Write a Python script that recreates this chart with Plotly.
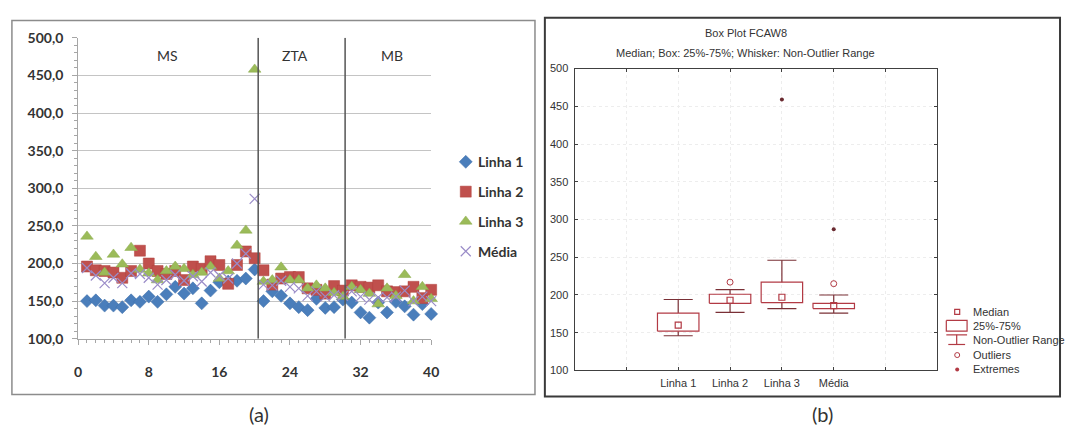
import plotly.graph_objects as go

W, H = 1070, 439

# ---- panel (a): hardness profile, 40 indentations per line ----
points = list(range(1, 41))
linha1 = [150, 151, 144, 144, 142, 151, 149, 156, 149, 159,
          169, 160, 167, 147, 164, 175, 176, 177, 180, 192,
          150, 163, 157, 147, 142, 138, 153, 141, 142, 152,
          148, 135, 128, 148, 135, 149, 143, 132, 146, 133]
linha2 = [196, 191, 190, 188, 181, 190, 217, 200, 190, 186,
          190, 178, 196, 193, 203, 198, 173, 198, 216, 207,
          191, 172, 180, 182, 182, 167, 165, 160, 170, 164,
          171, 169, 168, 171, 163, 162, 163, 169, 154, 165]
linha3 = [236, 209, 188, 212, 199, 221, 192, 187, 178, 190,
          196, 193, 185, 188, 196, 180, 190, 224, 244, 458,
          176, 178, 195, 178, 178, 167, 171, 167, 161, 156,
          169, 165, 160, 146, 167, 157, 185, 150, 169, 153]
media = [194, 184, 174, 181, 174, 187, 186, 181, 172, 178,
         185, 177, 183, 176, 188, 184, 180, 200, 213, 286,
         172, 171, 177, 169, 167, 157, 163, 156, 158, 157,
         163, 156, 152, 155, 155, 156, 164, 150, 156, 150]

x_ticks_a = [0, 8, 16, 24, 32, 40]
y_ticks_a = [100, 150, 200, 250, 300, 350, 400, 450, 500]
zone_names = ["MS", "ZTA", "MB"]
zone_edges = [20.4, 30.25]
zone_label_x = [10.1, 24.6, 35.6]
zone_label_y = 476

series_names = ["Linha 1", "Linha 2", "Linha 3", "Média"]

# ---- panel (b): box plot statistics ----
box_names = ["Linha 1", "Linha 2", "Linha 3", "Média"]
box_lower = [146, 177, 182, 176]
box_q1 = [152, 189, 190, 182]
box_median = [160, 193, 197, 186]
box_q3 = [176, 201, 217, 189]
box_upper = [194, 207, 246, 200]
box_outliers = [None, 217, None, 215]
box_extremes = [None, None, 459, 287]
y_ticks_b = [100, 150, 200, 250, 300, 350, 400, 450, 500]

# ---- styling ----
FONT_A = "Lato"
FONT_B = "Liberation Sans"
TXT = "#333333"
BOXRED = "#B23A44"
BOXDARK = "#7A3036"

styles = [
    dict(symbol="diamond", size=10, color="#4A7EBB", line=dict(color="#3F6FA8", width=0.5)),
    dict(symbol="square", size=11, color="#C0504D", line=dict(color="#B0403D", width=0.5)),
    dict(symbol="triangle-up", size=11, color="#9BBB59", line=dict(color="#8AAA4A", width=0.5)),
    dict(symbol="x-thin-open", size=10, color="#9A8CC8", line=dict(color="#9A8CC8", width=1.2)),
]


def px(x):
    return x / W


def py(y):
    return 1 - y / H


fig = go.Figure()

for name, vals, st in zip(series_names, [linha1, linha2, linha3, media], styles):
    fig.add_trace(go.Scatter(x=points, y=vals, mode="markers", name=name,
                             marker=st, xaxis="x", yaxis="y", showlegend=False,
                             cliponaxis=False))

# ---- box plot drawn from its statistics ----
pos = [2, 3, 4, 5]
half_box, half_cap = 0.40, 0.28
bx, by, wx, wy = [], [], [], []
for p, lo, q1, q3, hi in zip(pos, box_lower, box_q1, box_q3, box_upper):
    bx += [p - half_box, p + half_box, p + half_box, p - half_box, p - half_box, None]
    by += [q1, q1, q3, q3, q1, None]
    wx += [p, p, None, p - half_cap, p + half_cap, None,
           p, p, None, p - half_cap, p + half_cap, None]
    wy += [q3, hi, None, hi, hi, None, q1, lo, None, lo, lo, None]

fig.add_trace(go.Scatter(x=wx, y=wy, mode="lines", line=dict(color=BOXDARK, width=1.2),
                         xaxis="x2", yaxis="y2", showlegend=False, hoverinfo="skip"))
fig.add_trace(go.Scatter(x=bx, y=by, mode="lines", line=dict(color=BOXRED, width=1.2),
                         xaxis="x2", yaxis="y2", showlegend=False, hoverinfo="skip"))
fig.add_trace(go.Scatter(x=pos, y=box_median, mode="markers",
                         marker=dict(symbol="square-open", size=6, color=BOXRED,
                                     line=dict(width=1.2, color=BOXRED)),
                         xaxis="x2", yaxis="y2", showlegend=False))
ox = [p for p, v in zip(pos, box_outliers) if v is not None]
oy = [v for v in box_outliers if v is not None]
fig.add_trace(go.Scatter(x=ox, y=oy, mode="markers",
                         marker=dict(symbol="circle-open", size=6, color=BOXRED,
                                     line=dict(width=1, color=BOXRED)),
                         xaxis="x2", yaxis="y2", showlegend=False))
ex = [p for p, v in zip(pos, box_extremes) if v is not None]
ey = [v for v in box_extremes if v is not None]
fig.add_trace(go.Scatter(x=ex, y=ey, mode="markers",
                         marker=dict(symbol="circle", size=4, color="#6A2A30"),
                         xaxis="x2", yaxis="y2", showlegend=False))

# ---- legend glyphs on a pixel-space overlay ----
leg_a_x, leg_a_y = 467, [159, 190, 221, 252]
for st, yy in zip(styles, leg_a_y):
    fig.add_trace(go.Scatter(x=[leg_a_x], y=[yy], mode="markers", marker=st,
                             xaxis="x3", yaxis="y3", showlegend=False, hoverinfo="skip"))

leg_b_x = 964
fig.add_trace(go.Scatter(x=[leg_b_x], y=[315], mode="markers",
                         marker=dict(symbol="square-open", size=5, color=BOXRED,
                                     line=dict(width=1.2, color=BOXRED)),
                         xaxis="x3", yaxis="y3", showlegend=False, hoverinfo="skip"))
fig.add_trace(go.Scatter(x=[leg_b_x], y=[360], mode="markers",
                         marker=dict(symbol="circle-open", size=5, color=BOXRED,
                                     line=dict(width=1, color=BOXRED)),
                         xaxis="x3", yaxis="y3", showlegend=False, hoverinfo="skip"))
fig.add_trace(go.Scatter(x=[leg_b_x], y=[375], mode="markers",
                         marker=dict(symbol="circle", size=4, color=BOXRED),
                         xaxis="x3", yaxis="y3", showlegend=False, hoverinfo="skip"))
fig.add_trace(go.Scatter(x=[953, 974, 974, 953, 953, None, 953, 974, None, 963.5, 963.5, None, 955, 972],
                         y=[324, 324, 335, 335, 324, None, 339, 339, None, 339, 349, None, 349, 349],
                         mode="lines", line=dict(color=BOXRED, width=1.2),
                         xaxis="x3", yaxis="y3", showlegend=False, hoverinfo="skip"))

shapes = []
# zone separators
for xe in zone_edges:
    shapes.append(dict(type="line", xref="x", yref="y", x0=xe, x1=xe, y0=100, y1=500,
                       line=dict(color="#555555", width=1.5)))
# panel frames
shapes.append(dict(type="rect", xref="paper", yref="paper", x0=px(8), x1=px(537),
                   y0=py(401), y1=py(12), line=dict(color="#8C8C8C", width=1.5)))
shapes.append(dict(type="rect", xref="paper", yref="paper", x0=px(547), x1=px(1068),
                   y0=py(403), y1=py(9), line=dict(color="#3A3A3A", width=2)))

annotations = []
for nm, xl in zip(zone_names, zone_label_x):
    annotations.append(dict(x=xl, y=zone_label_y, xref="x", yref="y", text=nm, showarrow=False,
                            xanchor="center", font=dict(family=FONT_A, size=14, color=TXT)))
for nm, yy in zip(series_names, leg_a_y):
    annotations.append(dict(x=px(477), y=py(yy), xref="paper", yref="paper", text=nm,
                            showarrow=False, xanchor="left", yanchor="middle",
                            font=dict(family=FONT_A, size=14, color=TXT, weight="bold")))
for txt, yy in zip(["Median", "25%-75%", "Non-Outlier Range", "Outliers", "Extremes"],
                   [315, 330, 344, 360, 375]):
    annotations.append(dict(x=px(978), y=py(yy), xref="paper", yref="paper", text=txt,
                            showarrow=False, xanchor="left", yanchor="middle",
                            font=dict(family=FONT_B, size=11, color=TXT)))
annotations.append(dict(x=px(750), y=py(25), xref="paper", yref="paper", text="Box Plot FCAW8",
                        showarrow=False, xanchor="center", yanchor="middle",
                        font=dict(family=FONT_B, size=11, color=TXT)))
annotations.append(dict(x=px(750), y=py(46), xref="paper", yref="paper",
                        text="Median; Box: 25%-75%; Whisker: Non-Outlier Range",
                        showarrow=False, xanchor="center", yanchor="middle",
                        font=dict(family=FONT_B, size=11, color=TXT)))
annotations.append(dict(x=px(258), y=py(421), xref="paper", yref="paper", text="(a)",
                        showarrow=False, xanchor="center", yanchor="middle",
                        font=dict(family=FONT_A, size=20, color=TXT)))
annotations.append(dict(x=px(828), y=py(421), xref="paper", yref="paper", text="(b)",
                        showarrow=False, xanchor="center", yanchor="middle",
                        font=dict(family=FONT_A, size=20, color=TXT)))

fig.update_layout(
    width=W, height=H,
    margin=dict(l=0, r=0, t=0, b=0),
    paper_bgcolor="white", plot_bgcolor="rgba(0,0,0,0)",
    separators=",.",
    showlegend=False,
    xaxis=dict(domain=[px(75), px(432)], range=[0, 40], tickvals=x_ticks_a,
               ticks="outside", ticklen=5, tickcolor="#A6A6A6",
               minor=dict(dtick=1, ticks="outside", ticklen=3, tickcolor="#A6A6A6", showgrid=False),
               showline=True, linecolor="#A6A6A6", linewidth=1, showgrid=False, zeroline=False,
               ticklabelstandoff=15, anchor="y",
               tickfont=dict(family=FONT_A, size=14, color=TXT, weight="bold")),
    yaxis=dict(domain=[py(343), py(30)], range=[100, 500], tickvals=y_ticks_a, tickformat=".1f",
               ticks="outside", ticklen=5, tickcolor="#A6A6A6",
               minor=dict(dtick=10, ticks="outside", ticklen=3, tickcolor="#A6A6A6", showgrid=False),
               showline=True, linecolor="#A6A6A6", linewidth=1,
               showgrid=True, gridcolor="#C4C4C4", gridwidth=1.2, zeroline=False,
               ticklabelstandoff=6, anchor="x",
               tickfont=dict(family=FONT_A, size=14, color=TXT, weight="bold")),
    xaxis2=dict(domain=[px(577), px(944)], range=[0, 7], tickvals=[1, 2, 3, 4, 5, 6],
                ticktext=["", "Linha 1", "Linha 2", "Linha 3", "Média", ""],
                ticks="inside", ticklen=3, tickcolor="#404040", mirror="ticks",
                showline=True, linecolor="#404040", linewidth=1,
                showgrid=True, gridcolor="#EDEDED", griddash="dot", zeroline=False,
                anchor="y2", ticklabelstandoff=2,
                tickfont=dict(family=FONT_B, size=11, color=TXT)),
    yaxis2=dict(domain=[py(376), py(62)], range=[100, 500], tickvals=y_ticks_b,
                ticks="inside", ticklen=3, tickcolor="#404040", mirror="ticks",
                showline=True, linecolor="#404040", linewidth=1,
                showgrid=True, gridcolor="#EDEDED", griddash="dot", zeroline=False,
                anchor="x2", ticklabelstandoff=3,
                tickfont=dict(family=FONT_B, size=11, color=TXT)),
    xaxis3=dict(domain=[0, 1], range=[0, W], visible=False, anchor="y3"),
    yaxis3=dict(domain=[0, 1], range=[H, 0], visible=False, anchor="x3"),
    shapes=shapes,
    annotations=annotations,
)

fig.write_html("out.html")
